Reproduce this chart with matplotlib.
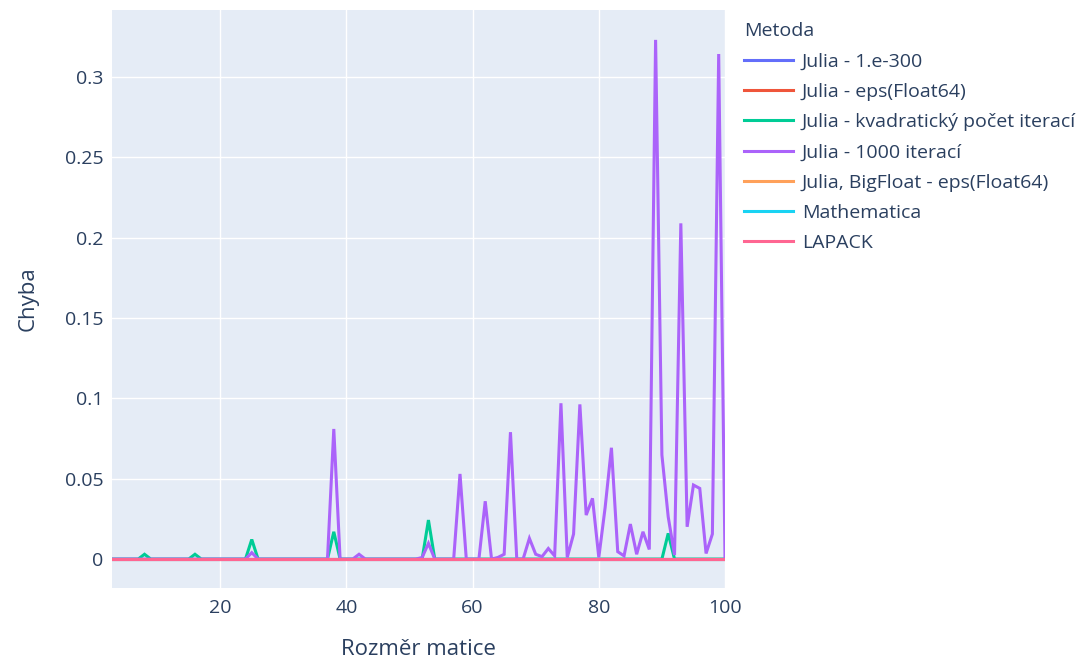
import matplotlib
matplotlib.use("Agg")
import matplotlib.pyplot as plt
import numpy as np

plt.rcParams['font.family'] = ['Open Sans', 'DejaVu Sans']

# Matrix sizes
sizes = list(range(3, 101))

# Error of each method per matrix size
err_1000_iter = [
    0, 0, 0, 0, 0, 0, 0, 0, 0, 0,                                  # 3-12
    0, 0, 0, 0, 0, 0, 0, 0, 0, 0,                                  # 13-22
    0, 0, 0.004, 0, 0, 0, 0, 0, 0, 0,                              # 23-32
    0, 0, 0, 0, 0, 0.081, 0, 0, 0, 0.003,                          # 33-42
    0, 0, 0, 0, 0, 0, 0, 0, 0, 0.001,                              # 43-52
    0.0098, 0, 0, 0, 0, 0.053, 0, 0, 0, 0.036,                     # 53-62
    0, 0.001, 0.003, 0.079, 0, 0, 0.0129, 0.003, 0.0015, 0.0066,   # 63-72
    0.002, 0.097, 0.001, 0.0156, 0.0963, 0.0274, 0.0378, 0.001, 0.032, 0.0693,  # 73-82
    0.0046, 0.002, 0.0218, 0.003, 0.017, 0.006, 0.3232, 0.0648, 0.0263, 0.0025,  # 83-92
    0.209, 0.0201, 0.0461, 0.044, 0.0035, 0.0156, 0.3144, 0.0,     # 93-100
]

err_quadratic = [
    0, 0, 0, 0, 0, 0.003, 0, 0, 0, 0,
    0, 0, 0, 0.003, 0, 0, 0, 0, 0, 0,
    0, 0, 0.0122, 0, 0, 0, 0, 0, 0, 0,
    0, 0, 0, 0, 0, 0.017, 0, 0, 0, 0,
    0, 0, 0, 0, 0, 0, 0, 0, 0, 0,
    0.0243, 0, 0, 0, 0, 0, 0, 0, 0, 0,
    0, 0, 0, 0, 0, 0, 0, 0, 0, 0,
    0, 0, 0, 0, 0, 0, 0, 0, 0, 0,
    0, 0, 0, 0, 0, 0, 0, 0, 0.016, 0,
    0, 0, 0, 0, 0, 0, 0, 0,
]

# Methods that stay at (numerically) zero error
err_1e300 = [0.0] * len(sizes)
err_eps = [0.0] * len(sizes)
err_bigfloat = [0.0] * len(sizes)
err_mathematica = [0.0] * len(sizes)
err_lapack = [0.0] * len(sizes)

methods = [
    "Julia - 1.e-300",
    "Julia - eps(Float64)",
    "Julia - kvadratický počet iterací",
    "Julia - 1000 iterací",
    "Julia, BigFloat - eps(Float64)",
    "Mathematica",
    "LAPACK",
]
series = [err_1e300, err_eps, err_quadratic, err_1000_iter,
          err_bigfloat, err_mathematica, err_lapack]
colors = ["#636efa", "#EF553B", "#00cc96", "#ab63fa",
          "#FFA15A", "#19d3f3", "#FF6692"]

x_ticks = [20, 40, 60, 80, 100]
y_ticks = [0, 0.05, 0.1, 0.15, 0.2, 0.25, 0.3]
y_tick_labels = ["0", "0.05", "0.1", "0.15", "0.2", "0.25", "0.3"]

text_color = "#2a3f5f"

fig = plt.figure(figsize=(10.8, 6.59), dpi=100)
ax = fig.add_axes([112 / 1080, 1 - 588 / 659, 613 / 1080, 578 / 659])
ax.set_facecolor("#E5ECF6")

for vals, name, col in zip(series, methods, colors):
    ax.plot(sizes, vals, color=col, lw=2.2, label=name,
            solid_joinstyle="miter", zorder=3)

ax.set_xlim(sizes[0] - 0.15, sizes[-1])
ax.set_ylim(-0.018, 0.3418)

ax.set_xticks(x_ticks)
ax.set_yticks(y_ticks)
ax.set_yticklabels(y_tick_labels)
ax.grid(True, color="white", lw=1.0, zorder=0)
ax.set_axisbelow(True)
for s in ax.spines.values():
    s.set_visible(False)
ax.tick_params(axis="both", length=0, labelsize=14, labelcolor=text_color, pad=6)
ax.tick_params(axis="x", pad=8)

ax.set_xlabel("Rozměr matice", fontsize=16, color=text_color, labelpad=16)
ax.set_ylabel("Chyba", fontsize=16, color=text_color, labelpad=19)

leg = ax.legend(loc="upper left", bbox_to_anchor=(742 / 1080, 1 - 20 / 659),
                bbox_transform=fig.transFigure, frameon=False,
                title="Metoda", fontsize=14, title_fontsize=14,
                handlelength=2.5, handletextpad=0.45, labelspacing=0.63,
                borderaxespad=0, borderpad=0.12)
leg._legend_box.align = "left"
for t in leg.get_texts():
    t.set_color(text_color)
leg.get_title().set_color(text_color)

fig.savefig("out.png", dpi=100)
